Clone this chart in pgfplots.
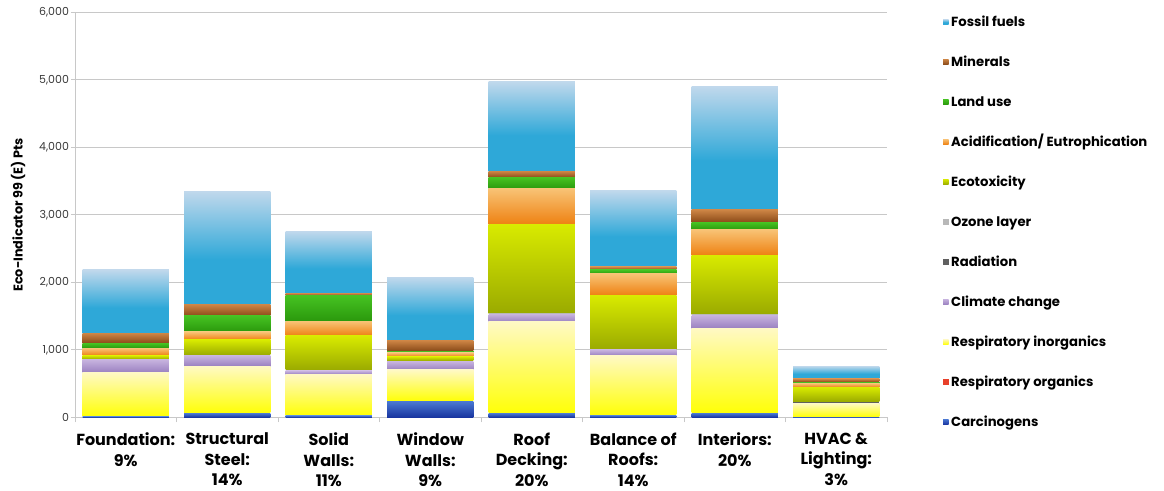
\documentclass[border=0pt]{standalone}
\usepackage{fontspec}
\setmainfont{Poppins}
\usepackage{pgfplots}
\usepackage{pgfplotstable}
\pgfplotsset{compat=1.18}

\definecolor{gridgray}{HTML}{C8C8C8}
\definecolor{ticktext}{HTML}{3A3A3A}
\definecolor{carcT}{HTML}{4A78D2}\definecolor{carcB}{HTML}{1834A0}
\definecolor{resporg}{HTML}{E8402A}
\definecolor{respT}{HTML}{FFF9C4}\definecolor{respB}{HTML}{FFFF08}
\definecolor{climT}{HTML}{C6B2DE}\definecolor{climB}{HTML}{9A80C0}
\definecolor{radiat}{HTML}{606060}
\definecolor{ozone}{HTML}{B8B8B8}
\definecolor{ecoT}{HTML}{D8EA00}\definecolor{ecoB}{HTML}{9AAA00}
\definecolor{acidT}{HTML}{F8C274}\definecolor{acidB}{HTML}{EE8010}
\definecolor{landT}{HTML}{46C222}\definecolor{landB}{HTML}{2A980C}
\definecolor{minT}{HTML}{CC8444}\definecolor{minB}{HTML}{8A4A18}
\definecolor{fosT}{HTML}{C0D8EC}\definecolor{fosB}{HTML}{2EA8D8}

% fossil fuels: solid blue in the lower half, fading to pale blue at the top
\pgfdeclareverticalshading{fossilshade}{100bp}{color(0bp)=(fosB); color(25bp)=(fosB); color(45bp)=(fosB); color(75bp)=(fosT); color(100bp)=(fosT)}

% Eco-Indicator 99 points per building system and impact category
\pgfplotstableread{
x carc resporg respinorg climate radiation ozone ecotox acid land minerals fossil
0 15  3  645  187 3 7  55   108 74  148 939
1 60  9  691  149 3 11 223  118 237 168 1679
2 25  5  607  49  3 12 504  217 380 35  919
3 237 10 454  124 3 12 59   59  25  153 938
4 60  9  1343 114 3 12 1308 534 168 93  1329
5 28  7  879  84  3 6  795  321 60  44  1131
6 62  7  1250 192 3 12 869  380 114 183 1827
7 8   2  198  12  3 9  212  60  19  45  192
}\ecodata

\pgfplotsset{
  ecobase/.style={
    scale only axis, width=812pt, height=405pt,
    xmin=-0.5, xmax=7.5, ymin=0, ymax=6000,
    enlarge x limits=false, enlarge y limits=false,
  },
  sCarc/.style={draw=none, top color=carcT, bottom color=carcB},
  sRorg/.style={draw=none, fill=resporg},
  sRinorg/.style={draw=none, top color=respT, bottom color=respB},
  sClim/.style={draw=none, top color=climT, bottom color=climB},
  sRad/.style={draw=none, fill=radiat},
  sOzone/.style={draw=none, fill=ozone},
  sEco/.style={draw=none, top color=ecoT, bottom color=ecoB},
  sAcid/.style={draw=none, top color=acidT, bottom color=acidB},
  sLand/.style={draw=none, top color=landT, bottom color=landB},
  sMin/.style={draw=none, top color=minT, bottom color=minB},
  sFos/.style={draw=none, shading=fossilshade},
}

\begin{document}
\begin{tikzpicture}
% frame: grid, ticks, labels and legend
\begin{axis}[
  ecobase,
  xtick={0,...,7},
  xticklabels={{Foundation:\\9\%},{Structural\\Steel:\\14\%},{Solid\\Walls:\\11\%},{Window\\Walls:\\9\%},{Roof\\Decking:\\20\%},{Balance of\\Roofs:\\14\%},{Interiors:\\20\%},{HVAC \&\\Lighting:\\3\%}},
  xticklabel style={align=center, font=\bfseries\fontsize{16}{20.5}\selectfont, text=black, yshift=-8pt},
  minor xtick={-0.5,0.5,...,7.5},
  ytick={0,1000,...,6000},
  yticklabel style={font=\fontsize{11}{13}\selectfont, text=ticktext, xshift=1.5pt},
  /pgf/number format/1000 sep={,},
  /pgf/number format/assume math mode=true,
  ymajorgrids, grid style={draw=gridgray, line width=0.9pt},
  axis x line*=bottom, axis y line*=left,
  axis line style={draw=gridgray, line width=0.9pt},
  tick align=outside,
  major x tick style={draw=none},
  minor x tick style={draw=gridgray, line width=0.9pt},
  major y tick style={draw=gridgray, line width=0.9pt},
  major tick length=4pt, minor tick length=5pt,
  ylabel={Eco-Indicator 99 (E) Pts},
  every axis y label/.style={at={(axis description cs:0,0.5)}, xshift=-57pt, rotate=90, anchor=center, font=\bfseries\fontsize{12.8}{14}\selectfont},
  reverse legend,
  legend cell align=left,
  legend image code/.code={\path[#1, draw=none] (0pt,-2pt) rectangle (5.5pt,3.5pt);},
  legend style={at={(axis description cs:1,1)}, anchor=north west, xshift=53pt, yshift=-1.5pt,
    draw=none, fill=none, font=\bfseries\fontsize{13.2}{14}\selectfont,
    row sep=27pt, nodes={inner sep=0pt, text height=10pt, text depth=3pt},
    /tikz/every odd column/.append style={column sep=2.5pt}},
]
\addlegendimage{sCarc}\addlegendentry{Carcinogens}
\addlegendimage{sRorg}\addlegendentry{Respiratory organics}
\addlegendimage{sRinorg}\addlegendentry{Respiratory inorganics}
\addlegendimage{sClim}\addlegendentry{Climate change}
\addlegendimage{sRad}\addlegendentry{Radiation}
\addlegendimage{sOzone}\addlegendentry{Ozone layer}
\addlegendimage{sEco}\addlegendentry{Ecotoxicity}
\addlegendimage{sAcid}\addlegendentry{Acidification/ Eutrophication}
\addlegendimage{sLand}\addlegendentry{Land use}
\addlegendimage{sMin}\addlegendentry{Minerals}
\addlegendimage{sFos}\addlegendentry{Fossil fuels}
\end{axis}
% one stacked bar per building system, so each segment gets its own gradient
\foreach \k in {0,...,7}{
\begin{axis}[ecobase, hide axis, ybar stacked, bar width=0.85,
  restrict x to domain=\k:\k]
\addplot[sCarc] table[x=x, y=carc] {\ecodata};
\addplot[sRorg] table[x=x, y=resporg] {\ecodata};
\addplot[sRinorg] table[x=x, y=respinorg] {\ecodata};
\addplot[sClim] table[x=x, y=climate] {\ecodata};
\addplot[sRad] table[x=x, y=radiation] {\ecodata};
\addplot[sOzone] table[x=x, y=ozone] {\ecodata};
\addplot[sEco] table[x=x, y=ecotox] {\ecodata};
\addplot[sAcid] table[x=x, y=acid] {\ecodata};
\addplot[sLand] table[x=x, y=land] {\ecodata};
\addplot[sMin] table[x=x, y=minerals] {\ecodata};
\addplot[sFos] table[x=x, y=fossil] {\ecodata};
\end{axis}
}
\pgfresetboundingbox
\useasboundingbox (-75pt,-72.7pt) rectangle (1089pt,417.3pt);
\end{tikzpicture}
\end{document}
